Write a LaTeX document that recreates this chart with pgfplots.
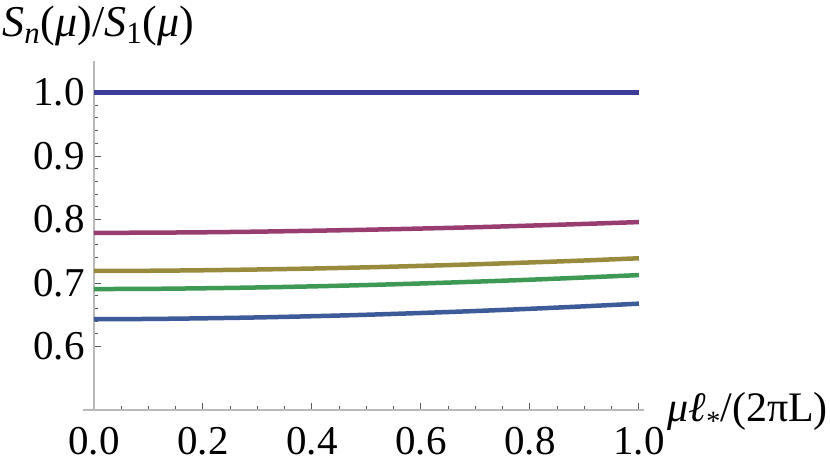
\documentclass[border=0pt]{standalone}
\usepackage{fontspec}
\setmainfont{Liberation Serif}
\usepackage{pgfplots}
\pgfplotsset{compat=1.18}

\definecolor{mA}{rgb}{0.24,0.24,0.6}
\definecolor{mB}{rgb}{0.6,0.24,0.442}
\definecolor{mC}{rgb}{0.6,0.547,0.24}
\definecolor{mD}{rgb}{0.24,0.6,0.33}
\definecolor{mE}{rgb}{0.24,0.353,0.6}

\begin{document}
\begin{tikzpicture}
  \begin{axis}[
      scale only axis,
      width=275.2pt, height=174.6pt,
      xmin=0, xmax=1.01,
      ymin=0.5, ymax=1.05,
      axis lines=left,
      axis line style={-, line width=0.6pt, gray!55},
      clip=false,
      xtick={0,0.2,...,1.0}, ytick={0.6,0.7,0.8,0.9,1.0},
      minor x tick num=3, minor y tick num=4,
      tick align=inside,
      major tick length=3.5pt, minor tick length=2pt,
      every tick/.style={black!65, line width=0.5pt},
      /pgf/number format/assume math mode=true,
      xticklabel={\pgfmathprintnumber[fixed,fixed zerofill,precision=1]{\tick}},
      yticklabel={\pgfmathprintnumber[fixed,fixed zerofill,precision=1]{\tick}},
      tick label style={font=\fontsize{20.5}{24}\selectfont},
      xticklabel style={anchor=north, inner sep=0pt, yshift=-8.5pt},
      yticklabel style={anchor=east, inner sep=0pt, xshift=-4.5pt},
    ]
    \addplot[mA, line width=2.25pt] coordinates {(0,1.0)(1,1.0)};
    \addplot[mB, line width=2.25pt, smooth] coordinates {
      (0,0.7790)(0.1,0.7793)(0.2,0.7799)(0.3,0.7809)(0.4,0.7823)(0.5,0.7839)
      (0.6,0.7858)(0.7,0.7879)(0.8,0.7904)(0.9,0.7931)(1.0,0.7960)};
    \addplot[mC, line width=2.25pt, smooth] coordinates {
      (0,0.7190)(0.1,0.7193)(0.2,0.7201)(0.3,0.7213)(0.4,0.7228)(0.5,0.7247)
      (0.6,0.7270)(0.7,0.7295)(0.8,0.7324)(0.9,0.7355)(1.0,0.7390)};
    \addplot[mD, line width=2.25pt, smooth] coordinates {
      (0,0.6905)(0.1,0.6908)(0.2,0.6917)(0.3,0.6930)(0.4,0.6947)(0.5,0.6968)
      (0.6,0.6993)(0.7,0.7021)(0.8,0.7052)(0.9,0.7087)(1.0,0.7125)};
    \addplot[mE, line width=2.25pt, smooth] coordinates {
      (0,0.6430)(0.1,0.6434)(0.2,0.6444)(0.3,0.6458)(0.4,0.6477)(0.5,0.6500)
      (0.6,0.6528)(0.7,0.6559)(0.8,0.6594)(0.9,0.6633)(1.0,0.6675)};
    % short stub of the x axis left of the y axis, as Mathematica draws it
    \draw[line width=0.6pt, gray!55] (axis cs:-0.021,0.5) -- (axis cs:0,0.5);
    \coordinate (org) at (axis cs:0,0.5);
    \node[anchor=base west, inner sep=0pt, font=\fontsize{22}{24}\selectfont]
      at (rel axis cs:0,1) [xshift=-46pt, yshift=12pt]
      {\textit{S}\textsubscript{\textit{n}}(\textit{μ})/\textit{S}\textsubscript{1}(\textit{μ})};
    \node[anchor=base west, inner sep=0pt, font=\fontsize{21}{23}\selectfont]
      at (rel axis cs:1,0) [xshift=11.5pt, yshift=-5.9pt]
      {\textit{μℓ}\raisebox{-0.45ex}{\fontsize{14}{14}\selectfont *}/(2πL)};
  \end{axis}
  \pgfresetboundingbox
  \path[use as bounding box] ([shift={(-47pt,-27.5pt)}]org) rectangle ++(415pt,232.5pt);
\end{tikzpicture}
\end{document}
